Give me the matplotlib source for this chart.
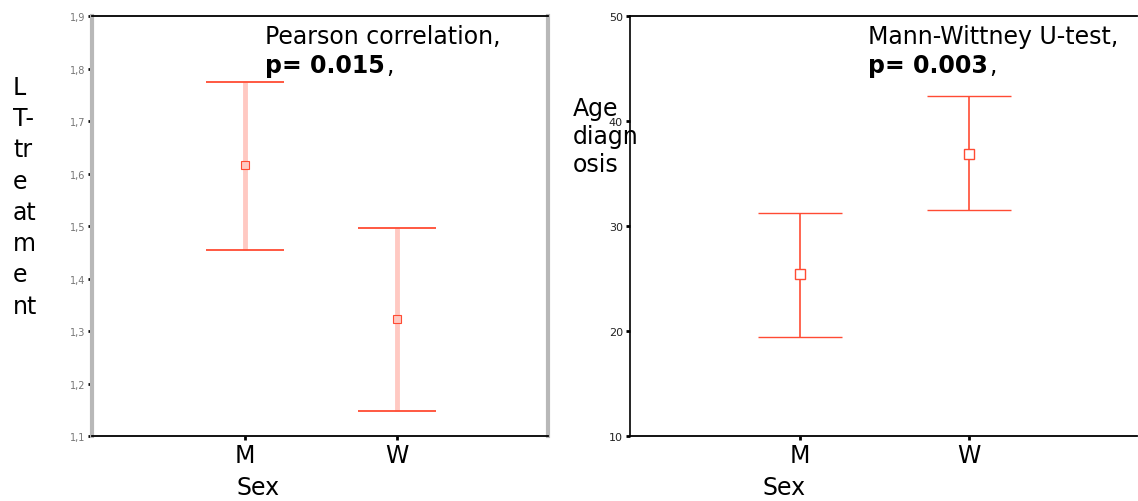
import numpy as np
import matplotlib.pyplot as plt

groups = ["M", "W"]

# left panel: LT-treatment by sex
lt_mean = [1.616, 1.323]
lt_low = [1.454, 1.148]
lt_high = [1.774, 1.496]
lt_ticks = [1.1, 1.2, 1.3, 1.4, 1.5, 1.6, 1.7, 1.8, 1.9]
lt_ticklabels = ["1,1", "1,2", "1,3", "1,4", "1,5", "1,6", "1,7", "1,8", "1,9"]

# right panel: age at diagnosis by sex
age_mean = [25.4, 36.9]
age_low = [19.4, 31.5]
age_high = [31.2, 42.4]
age_ticks = [10, 20, 30, 40, 50]

plt.rcParams['font.family'] = ['DejaVu Sans']
red = '#ff4b33'
W, H = 1138, 502

fig = plt.figure(figsize=(W / 100, H / 100), dpi=100)
ax1 = fig.add_axes([92/W, 1-437/H, (548-92)/W, 420/H])
ax2 = fig.add_axes([630/W, 1-437/H, (1137-630)/W, 420/H])

x = np.arange(len(groups))

# left: pale vertical bars with red caps
m1 = np.array(lt_mean)
ax1.vlines(x, lt_low, lt_high, color='#ffc9c2', lw=3.5, zorder=2)
ax1.hlines(lt_low, x - 0.257, x + 0.257, color=red, lw=1.3, zorder=3)
ax1.hlines(lt_high, x - 0.257, x + 0.257, color=red, lw=1.3, zorder=3)
ax1.plot(x, m1, 's', ms=6, mfc='#ffc9c2', mec=red, mew=0.8, zorder=4)

# right: plain red error bars
m2 = np.array(age_mean)
ax2.errorbar(x, m2, yerr=[m2 - np.array(age_low), np.array(age_high) - m2],
             fmt='s', ms=7, mfc='white', mec=red, mew=1, color=red,
             elinewidth=1.2, capsize=30, capthick=1.2, zorder=3)

ax1.set_ylim(1.1, 1.9)
ax1.set_yticks(lt_ticks)
ax1.set_yticklabels(lt_ticklabels, fontsize=7, color='#777777')
ax2.set_ylim(10, 50)
ax2.set_yticks(age_ticks)
ax2.set_yticklabels([str(t) for t in age_ticks], fontsize=8, color='#222222')

for ax in (ax1, ax2):
    ax.set_xlim(-1.007, 1.993)
    ax.set_xticks(x)
    ax.set_xticklabels(groups, fontsize=17)
    ax.tick_params(axis='y', length=3, width=2, pad=2, color='black')
    ax.tick_params(axis='x', length=3, width=2, pad=2, color='black')
    ax.spines['top'].set_linewidth(1.3)
    ax.spines['bottom'].set_linewidth(1.3)

ax1.spines['left'].set_color('#b8b8b8')
ax1.spines['left'].set_linewidth(3)
ax1.spines['right'].set_color('#b8b8b8')
ax1.spines['right'].set_linewidth(3)
ax2.spines['left'].set_linewidth(1.2)
ax2.spines['right'].set_visible(False)

# axis titles placed as in the reference
fig.text(258/W, 1-488/H, "Sex", fontsize=17, ha='center', va='center')
fig.text(784/W, 1-488/H, "Sex", fontsize=17, ha='center', va='center')
fig.text(13/W, 1-76/H, "L\nT-\ntr\ne\nat\nm\ne\nnt", fontsize=17,
         va='top', ha='left', linespacing=1.38)
fig.text(573/W, 1-97/H, "Age\ndiagn\nosis", fontsize=17,
         va='top', ha='left', linespacing=1.2)

# test annotations
fig.text(265/W, 1-37/H, "Pearson correlation,", fontsize=17, va='center', ha='left')
t1 = fig.text(265/W, 1-66/H, "p= 0.015", fontsize=17, fontweight='bold',
              va='center', ha='left')
fig.text(868/W, 1-37/H, "Mann-Wittney U-test,", fontsize=17, va='center', ha='left')
t2 = fig.text(868/W, 1-66/H, "p= 0.003", fontsize=17, fontweight='bold',
              va='center', ha='left')
# trailing normal-weight comma right after the bold p-value
for t in (t1, t2):
    fig.add_artist(plt.Annotation(",", xy=(1, 0), xycoords=t, xytext=(1, 0),
                                  textcoords='offset points', fontsize=17,
                                  va='bottom', ha='left', annotation_clip=False))

fig.savefig('out.png', dpi=100)
